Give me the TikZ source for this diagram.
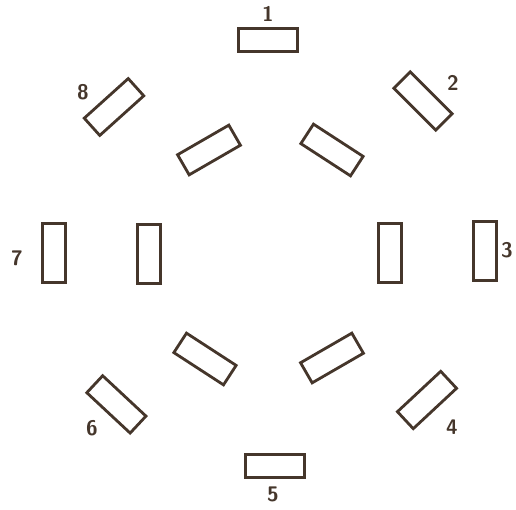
\documentclass[tikz,border=0pt]{standalone}
\usepackage{xcolor,tikz}
\usetikzlibrary{positioning}
\definecolor{InkMain}{HTML}{45362B}
\tikzset{slot/.style={draw=InkMain,line width=2pt,minimum width=1.48cm,
 minimum height=0.58cm,inner sep=0pt},
 num/.style={text=InkMain,font=\sffamily\bfseries\fontsize{15}{15}\selectfont}}
\begin{document}
\begin{tikzpicture}
\useasboundingbox (-6.75,-6.375) rectangle (6.15,6.35);
% outer ring
\node[slot,rotate=0] (o1) at (-0.05,5.35) {};
\node[slot,rotate=-45] (o2) at (3.825,3.825) {};
\node[slot,rotate=90] (o3) at (5.375,0.075) {};
\node[slot,rotate=43] (o4) at (3.925,-3.65) {};
\node[slot,rotate=0] (o5) at (0.125,-5.3) {};
\node[slot,rotate=-43] (o6) at (-3.84,-3.76) {};
\node[slot,rotate=90] (o7) at (-5.4,0.025) {};
\node[slot,rotate=42] (o8) at (-3.9,3.675) {};
% inner ring
\node[slot,rotate=90] (i1) at (3.0,0.025) {};
\node[slot,rotate=-33] (i2) at (1.55,2.6) {};
\node[slot,rotate=30] (i3) at (-1.525,2.6) {};
\node[slot,rotate=90] (i4) at (-3.025,0) {};
\node[slot,rotate=-33] (i5) at (-1.625,-2.625) {};
\node[slot,rotate=30] (i6) at (1.55,-2.6) {};
% numbers
\node[num] (n1) at (-0.05,6.0) {1};
\node[num] (n2) at (4.575,4.275) {2};
\node[num] (n3) at (5.925,0.1) {3};
\node[num] (n4) at (4.55,-4.325) {4};
\node[num] (n5) at (0.075,-6.02) {5};
\node[num] (n6) at (-4.45,-4.35) {6};
\node[num] (n7) at (-6.325,-0.1) {7};
\node[num] (n8) at (-4.675,4.05) {8};
\end{tikzpicture}
\end{document}
